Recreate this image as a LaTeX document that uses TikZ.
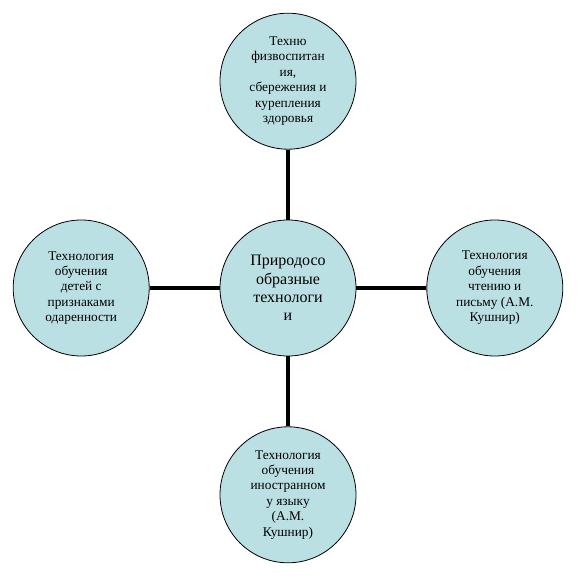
\documentclass[tikz,border=0pt]{standalone}
\usepackage{fontspec}
\setmainfont{Liberation Serif}
\newfontfamily\cyrserif{Liberation Serif}
\usepackage{tikz}
\usetikzlibrary{positioning}
\definecolor{circfill}{RGB}{187,224,227}

\begin{document}
\begin{tikzpicture}[x=0.75pt,y=-0.75pt, node distance=52.5pt, every node/.style={align=center}, tech/.style={circle,draw,line width=0.6pt,fill=circfill,minimum size=102pt,inner sep=0pt,font=\cyrserif\fontsize{10}{11.6}\selectfont}, hub/.style={tech,font=\cyrserif\fontsize{12}{13.8}\selectfont}, link/.style={line width=3pt}]
\useasboundingbox (0,0) rectangle (577,577);
\node[hub] (nat) at (288,288) {Природосо\\образные\\технологи\\и};
\node[tech,above=of nat] (health) {Техню\\физвоспитан\\ия,\\сбережения и\\курепления\\здоровья};
\node[tech,left=of nat] (gifted) {Технология\\обучения\\детей с\\признаками\\одаренности};
\node[tech,right=of nat] (read) {Технология\\обучения\\чтению и\\письму (А.М.\\Кушнир)};
\node[tech,below=of nat] (lang) {Технология\\обучения\\иностранном\\у языку\\(А.М.\\Кушнир)};
\draw[link] (nat) -- (health); \draw[link] (nat) -- (gifted); \draw[link] (nat) -- (read); \draw[link] (nat) -- (lang);
\end{tikzpicture}
\end{document}
